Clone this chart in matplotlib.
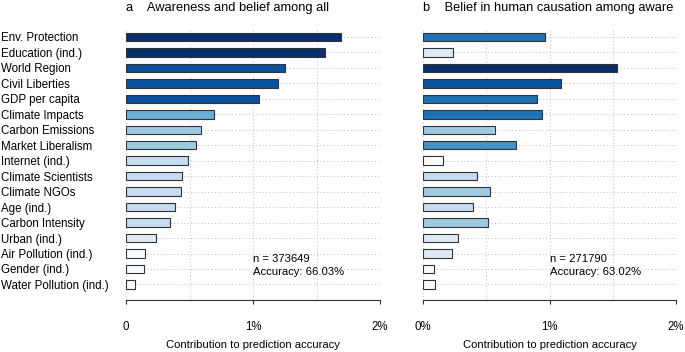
import numpy as np
import matplotlib
matplotlib.use("Agg")
import matplotlib.pyplot as plt
from matplotlib.colors import BoundaryNorm, ListedColormap

plt.rcParams['font.family'] = ['Liberation Sans', 'DejaVu Sans']

predictors = ["Env. Protection", "Education (ind.)", "World Region", "Civil Liberties",
              "GDP per capita", "Climate Impacts", "Carbon Emissions", "Market Liberalism",
              "Internet (ind.)", "Climate Scientists", "Climate NGOs", "Age (ind.)",
              "Carbon Intensity", "Urban (ind.)", "Air Pollution (ind.)", "Gender (ind.)",
              "Water Pollution (ind.)"]

# contribution to prediction accuracy, in percent
awareness = [1.695, 1.565, 1.25, 1.194, 1.045, 0.695, 0.593, 0.554, 0.486, 0.443,
             0.43, 0.389, 0.349, 0.239, 0.15, 0.142, 0.073]
causation = [0.965, 0.234, 1.531, 1.087, 0.897, 0.939, 0.571, 0.737, 0.155, 0.429,
             0.532, 0.392, 0.516, 0.276, 0.226, 0.084, 0.092]

titles = ["a    Awareness and belief among all", "b    Belief in human causation among aware"]
n_obs = [373649, 271790]
accuracy = [66.03, 63.02]
tick_labels = [["0", "1%", "2%"], ["0%", "1%", "2%"]]

blues = ListedColormap(["#f7fbff", "#deebf7", "#c6dbef", "#9ecae1", "#6baed6",
                        "#4292c6", "#2171b5", "#08519c", "#08306b"])
norm = BoundaryNorm([0, 0.2, 0.3, 0.5, 0.6, 0.7, 0.8, 1.0, 1.5, 3.0], blues.N)

fig = plt.figure(figsize=(6.85, 3.52), dpi=100)
ax_a = fig.add_axes([0.184, 0.148, 0.371, 0.769])
ax_b = fig.add_axes([0.6175, 0.148, 0.3695, 0.769])

y = np.arange(len(predictors))
for i, (ax, vals) in enumerate(zip([ax_a, ax_b], [awareness, causation])):
    ax.barh(y, vals, height=0.55, color=blues(norm(vals)), edgecolor="#333333",
            linewidth=0.8, zorder=3)
    ax.set_xlim(0, 2)
    ax.set_ylim(17.0, -0.5)
    ax.set_xticks([0, 1, 2])
    ax.set_xticklabels(tick_labels[i], fontsize=8.3)
    ax.set_xticks([0.5, 1.5], minor=True)
    ax.tick_params(axis='x', which='major', length=3, pad=12, color="#333333")
    ax.tick_params(axis='x', which='minor', length=0)
    ax.set_yticks(y)
    ax.tick_params(axis='y', length=0)
    ax.grid(True, which='both', linestyle=(0, (1, 2.5)), color="#bbbbbb", linewidth=0.7, zorder=0)
    for s in ["top", "right", "left"]:
        ax.spines[s].set_visible(False)
    ax.spines["bottom"].set_color("#333333")
    ax.set_xlabel("Contribution to prediction accuracy", fontsize=8.1, labelpad=5)
    ax.set_title(titles[i], loc='left', fontsize=9.3, pad=13)
    ax.text(1.0, 14.75, "n = %d\nAccuracy: %.2f%%" % (n_obs[i], accuracy[i]),
            fontsize=8.1, va='center', ha='left', linespacing=1.4)

ax_a.set_yticklabels(predictors, fontsize=8.3)
for lab in ax_a.get_yticklabels():
    lab.set_ha('left')
ax_a.tick_params(axis='y', pad=90)
ax_b.set_yticklabels([])

fig.savefig("out.png", dpi=100)
